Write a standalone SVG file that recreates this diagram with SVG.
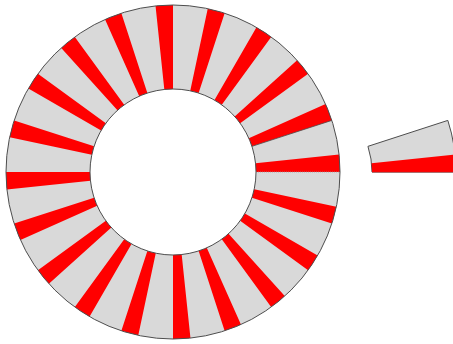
<svg xmlns="http://www.w3.org/2000/svg" xmlns:xlink="http://www.w3.org/1999/xlink" width="453" height="344" viewBox="0 0 453 344">
  <style>
    .gray { fill: #d9d9d9; }
    .red { fill: #ff0000; }
    .edge { fill: none; stroke: #4d4d4d; stroke-width: 1; }
  </style>
  <defs>
    <path id="redWedge" d="M167,0 A167,167 0 0 0 166.085,-17.456 L82.545,-8.676 A83,83 0 0 1 83,0 Z"/>
    <path id="segment" d="M83,0 L167,0 A167,167 0 0 0 158.826,-51.606 L78.938,-25.648 A83,83 0 0 1 83,0 Z"/>
  </defs>
  <rect width="453" height="344" fill="#ffffff"/>
  <g id="ring" transform="translate(173,172)">
    <path class="gray" fill-rule="evenodd" d="M167,0 A167,167 0 1 0 -167,0 A167,167 0 1 0 167,0 Z M83,0 A83,83 0 1 0 -83,0 A83,83 0 1 0 83,0 Z"/>
    <g class="red">
      <use xlink:href="#redWedge"/>
      <use xlink:href="#redWedge" transform="rotate(-18)"/>
      <use xlink:href="#redWedge" transform="rotate(-36)"/>
      <use xlink:href="#redWedge" transform="rotate(-54)"/>
      <use xlink:href="#redWedge" transform="rotate(-72)"/>
      <use xlink:href="#redWedge" transform="rotate(-90)"/>
      <use xlink:href="#redWedge" transform="rotate(-108)"/>
      <use xlink:href="#redWedge" transform="rotate(-126)"/>
      <use xlink:href="#redWedge" transform="rotate(-144)"/>
      <use xlink:href="#redWedge" transform="rotate(-162)"/>
      <use xlink:href="#redWedge" transform="rotate(-180)"/>
      <use xlink:href="#redWedge" transform="rotate(-198)"/>
      <use xlink:href="#redWedge" transform="rotate(-216)"/>
      <use xlink:href="#redWedge" transform="rotate(-234)"/>
      <use xlink:href="#redWedge" transform="rotate(-252)"/>
      <use xlink:href="#redWedge" transform="rotate(-270)"/>
      <use xlink:href="#redWedge" transform="rotate(-288)"/>
      <use xlink:href="#redWedge" transform="rotate(-306)"/>
      <use xlink:href="#redWedge" transform="rotate(-324)"/>
      <use xlink:href="#redWedge" transform="rotate(-342)"/>
    </g>
    <line x1="83" y1="0" x2="167" y2="0" stroke="#9a9a9a" stroke-width="0.7" stroke-dasharray="1 1"/>
    <line x1="78.938" y1="-25.648" x2="158.826" y2="-51.606" stroke="#4d4d4d" stroke-width="0.8"/>
    <circle class="edge" r="167"/>
    <circle class="edge" r="83"/>
  </g>
  <g id="piece" transform="translate(289,172)">
    <use xlink:href="#segment" class="gray" stroke="#4d4d4d" stroke-width="1"/>
    <use xlink:href="#redWedge" class="red"/>
    <line x1="83" y1="0.3" x2="167" y2="0.3" stroke="#b03030" stroke-width="0.6"/>
  </g>
</svg>
